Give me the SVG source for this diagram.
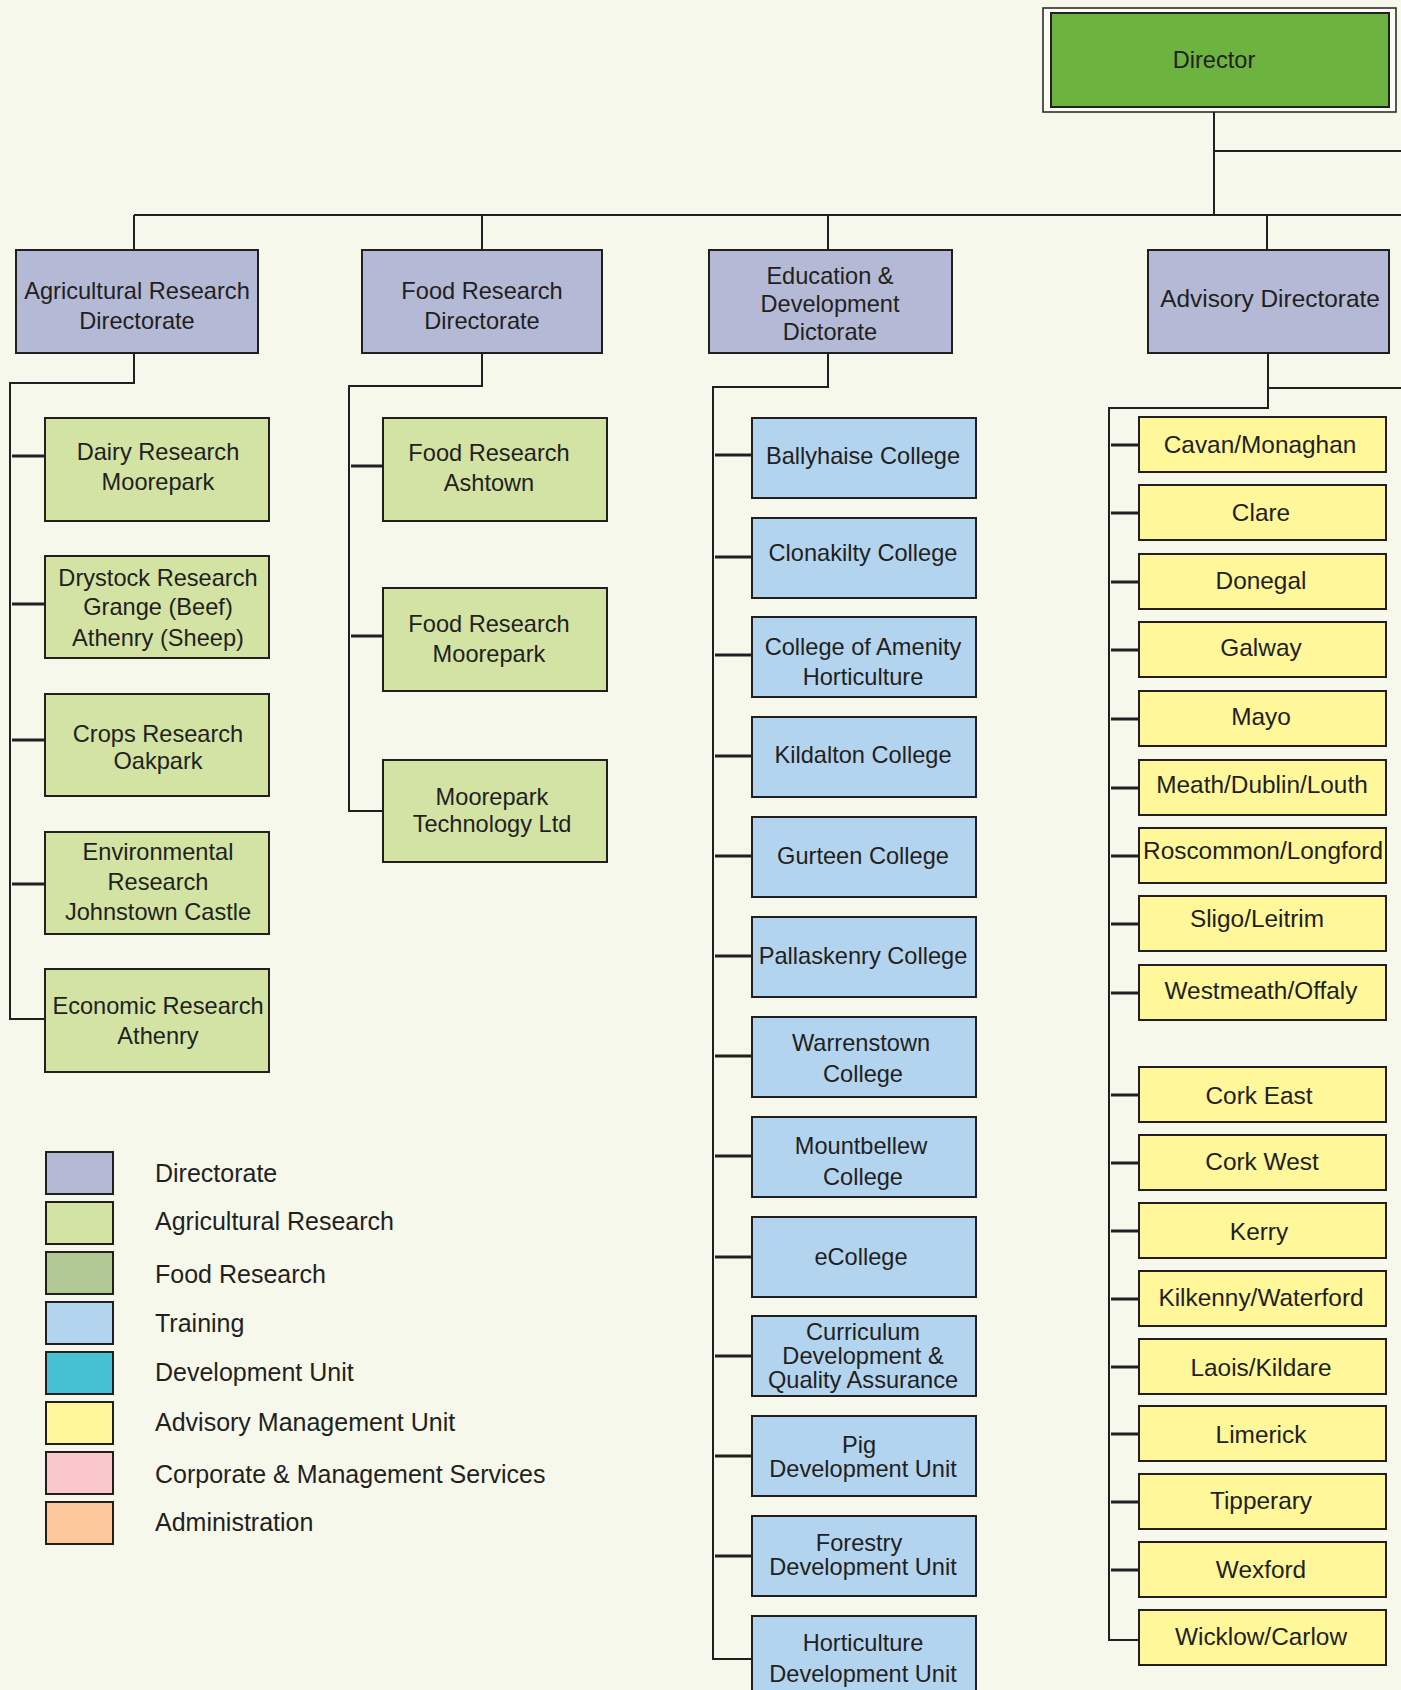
<svg xmlns="http://www.w3.org/2000/svg" width="1401" height="1690" viewBox="0 0 1401 1690">
<style>
text{font-family:"Liberation Sans",Arial,sans-serif;font-size:23.6px;fill:#231f20;text-anchor:middle;dominant-baseline:central}
.w{font-size:24.4px}
.lg{text-anchor:start;font-size:25px}
.b{stroke:#231f20;stroke-width:2}
.dir{fill:#b4b9d6}.agr{fill:#d2e3a4}.food{fill:#b2c996}.tr{fill:#b3d4ef}.dev{fill:#45c1d3}.adv{fill:#fff799}.corp{fill:#f9c7cc}.adm{fill:#fdc89c}
.c{fill:none;stroke:#231f20;stroke-width:2}
.t{fill:none;stroke:#231f20;stroke-width:3}
</style>
<rect x="0" y="0" width="1401" height="1690" fill="#f7f8ec"/>
<g id="connectors">
<path class="c" d="M1214 107V215M1214 151H1401M134 215H1401M134 215V250M482 215V250M828 215V250M1267 215V250"/>
<path class="c" d="M134 353V383H10V1019H45"/>
<path class="t" d="M12 456H45M12 604H45M12 740H45M12 884H45"/>
<path class="c" d="M482 352V386H349V811H383"/>
<path class="t" d="M351 466H383M351 636H383"/>
<path class="c" d="M828 353V387H713V1659H752"/>
<path class="t" d="M715 455H752M715 557H752M715 655H752M715 756H752M715 856H752M715 956H752M715 1056H752M715 1156H752M715 1257H752M715 1356H752M715 1456H752M715 1556H752"/>
<path class="c" d="M1268 353V408H1109V1640H1139M1268 388H1401"/>
<path class="t" d="M1111 445H1139M1111 513H1139M1111 582H1139M1111 650H1139M1111 719H1139M1111 788H1139M1111 856H1139M1111 924H1139M1111 993H1139M1111 1095H1139M1111 1163H1139M1111 1231H1139M1111 1299H1139M1111 1367H1139M1111 1434H1139M1111 1502H1139M1111 1570H1139"/>
</g>
<g id="director">
<rect x="1043" y="8" width="353" height="104" fill="#fbfcf4" stroke="#231f20" stroke-width="1.5"/>
<rect x="1051" y="13" width="338" height="94" fill="#6db33f" class="b"/>
<text x="1214" y="60">Director</text>
</g>
<g id="agri-dir"><rect x="16" y="250" width="242" height="103" class="b dir"/><text x="137" y="291">Agricultural Research</text><text x="137" y="321">Directorate</text></g>
<g id="food-dir"><rect x="362" y="250" width="240" height="103" class="b dir"/><text x="482" y="291">Food Research</text><text x="482" y="321">Directorate</text></g>
<g id="edu-dir"><rect x="709" y="250" width="243" height="103" class="b dir"/><text x="830" y="276">Education &amp;</text><text x="830" y="304">Development</text><text x="830" y="332">Dictorate</text></g>
<g id="adv-dir"><rect x="1148" y="250" width="241" height="103" class="b dir"/><text class="w" x="1270" y="298">Advisory Directorate</text></g>

<g id="dairy"><rect x="45" y="418" width="224" height="103" class="b agr"/><text x="158" y="452">Dairy Research</text><text x="158" y="482">Moorepark</text></g>
<g id="drystock"><rect x="45" y="556" width="224" height="102" class="b agr"/><text x="158" y="578">Drystock Research</text><text x="158" y="607">Grange (Beef)</text><text x="158" y="638">Athenry (Sheep)</text></g>
<g id="crops"><rect x="45" y="694" width="224" height="102" class="b agr"/><text x="158" y="734">Crops Research</text><text x="158" y="761">Oakpark</text></g>
<g id="env"><rect x="45" y="832" width="224" height="102" class="b agr"/><text x="158" y="852">Environmental</text><text x="158" y="882">Research</text><text x="158" y="912">Johnstown Castle</text></g>
<g id="econ"><rect x="45" y="969" width="224" height="103" class="b agr"/><text x="158" y="1006">Economic Research</text><text x="158" y="1036">Athenry</text></g>

<g id="food-ashtown"><rect x="383" y="418" width="224" height="103" class="b agr"/><text x="489" y="453">Food Research</text><text x="489" y="483">Ashtown</text></g>
<g id="food-moorepark"><rect x="383" y="588" width="224" height="103" class="b agr"/><text x="489" y="624">Food Research</text><text x="489" y="654">Moorepark</text></g>
<g id="moorepark-tech"><rect x="383" y="760" width="224" height="102" class="b agr"/><text x="492" y="797">Moorepark</text><text x="492" y="824">Technology Ltd</text></g>

<g id="ballyhaise"><rect x="752" y="418" width="224" height="80" class="b tr"/><text x="863" y="456">Ballyhaise College</text></g>
<g id="clonakilty"><rect x="752" y="518" width="224" height="80" class="b tr"/><text x="863" y="553">Clonakilty College</text></g>
<g id="amenity"><rect x="752" y="617" width="224" height="80" class="b tr"/><text x="863" y="647">College of Amenity</text><text x="863" y="677">Horticulture</text></g>
<g id="kildalton"><rect x="752" y="717" width="224" height="80" class="b tr"/><text x="863" y="755">Kildalton College</text></g>
<g id="gurteen"><rect x="752" y="817" width="224" height="80" class="b tr"/><text x="863" y="856">Gurteen College</text></g>
<g id="pallaskenry"><rect x="752" y="917" width="224" height="80" class="b tr"/><text x="863" y="956">Pallaskenry College</text></g>
<g id="warrenstown"><rect x="752" y="1017" width="224" height="80" class="b tr"/><text x="861" y="1043">Warrenstown</text><text x="863" y="1074">College</text></g>
<g id="mountbellew"><rect x="752" y="1117" width="224" height="80" class="b tr"/><text x="861" y="1146">Mountbellew</text><text x="863" y="1177">College</text></g>
<g id="ecollege"><rect x="752" y="1217" width="224" height="80" class="b tr"/><text x="861" y="1257">eCollege</text></g>
<g id="curriculum"><rect x="752" y="1316" width="224" height="80" class="b tr"/><text x="863" y="1332">Curriculum</text><text x="863" y="1356">Development &amp;</text><text x="863" y="1380">Quality Assurance</text></g>
<g id="pig"><rect x="752" y="1416" width="224" height="80" class="b tr"/><text x="859" y="1445">Pig</text><text x="863" y="1469">Development Unit</text></g>
<g id="forestry"><rect x="752" y="1516" width="224" height="80" class="b tr"/><text x="859" y="1543">Forestry</text><text x="863" y="1567">Development Unit</text></g>
<g id="horticulture"><rect x="752" y="1616" width="224" height="80" class="b tr"/><text x="863" y="1643">Horticulture</text><text x="863" y="1674">Development Unit</text></g>

<g id="cavan"><rect x="1139" y="417" width="247" height="55" class="b adv"/><text class="w" x="1260" y="444">Cavan/Monaghan</text></g>
<g id="clare"><rect x="1139" y="485" width="247" height="55" class="b adv"/><text class="w" x="1261" y="512">Clare</text></g>
<g id="donegal"><rect x="1139" y="554" width="247" height="55" class="b adv"/><text class="w" x="1261" y="580">Donegal</text></g>
<g id="galway"><rect x="1139" y="622" width="247" height="55" class="b adv"/><text class="w" x="1261" y="647">Galway</text></g>
<g id="mayo"><rect x="1139" y="691" width="247" height="55" class="b adv"/><text class="w" x="1261" y="716">Mayo</text></g>
<g id="meath"><rect x="1139" y="760" width="247" height="55" class="b adv"/><text class="w" x="1262" y="784">Meath/Dublin/Louth</text></g>
<g id="roscommon"><rect x="1139" y="828" width="247" height="55" class="b adv"/><text class="w" x="1263" y="850">Roscommon/Longford</text></g>
<g id="sligo"><rect x="1139" y="896" width="247" height="55" class="b adv"/><text class="w" x="1257" y="918">Sligo/Leitrim</text></g>
<g id="westmeath"><rect x="1139" y="965" width="247" height="55" class="b adv"/><text class="w" x="1261" y="990">Westmeath/Offaly</text></g>
<g id="cork-east"><rect x="1139" y="1067" width="247" height="55" class="b adv"/><text class="w" x="1259" y="1095">Cork East</text></g>
<g id="cork-west"><rect x="1139" y="1135" width="247" height="55" class="b adv"/><text class="w" x="1262" y="1161">Cork West</text></g>
<g id="kerry"><rect x="1139" y="1203" width="247" height="55" class="b adv"/><text class="w" x="1259" y="1231">Kerry</text></g>
<g id="kilkenny"><rect x="1139" y="1271" width="247" height="55" class="b adv"/><text class="w" x="1261" y="1297">Kilkenny/Waterford</text></g>
<g id="laois"><rect x="1139" y="1339" width="247" height="55" class="b adv"/><text class="w" x="1261" y="1367">Laois/Kildare</text></g>
<g id="limerick"><rect x="1139" y="1406" width="247" height="55" class="b adv"/><text class="w" x="1261" y="1434">Limerick</text></g>
<g id="tipperary"><rect x="1139" y="1474" width="247" height="55" class="b adv"/><text class="w" x="1261" y="1500">Tipperary</text></g>
<g id="wexford"><rect x="1139" y="1542" width="247" height="55" class="b adv"/><text class="w" x="1261" y="1569">Wexford</text></g>
<g id="wicklow"><rect x="1139" y="1610" width="247" height="55" class="b adv"/><text class="w" x="1261" y="1636">Wicklow/Carlow</text></g>

<g id="legend">
<rect x="46" y="1152" width="67" height="42" class="b dir"/><text class="lg" x="155" y="1173">Directorate</text>
<rect x="46" y="1202" width="67" height="42" class="b agr"/><text class="lg" x="155" y="1221">Agricultural Research</text>
<rect x="46" y="1252" width="67" height="42" class="b food"/><text class="lg" x="155" y="1274">Food Research</text>
<rect x="46" y="1302" width="67" height="42" class="b tr"/><text class="lg" x="155" y="1323">Training</text>
<rect x="46" y="1352" width="67" height="42" class="b dev"/><text class="lg" x="155" y="1372">Development Unit</text>
<rect x="46" y="1402" width="67" height="42" class="b adv"/><text class="lg" x="155" y="1422">Advisory Management Unit</text>
<rect x="46" y="1452" width="67" height="42" class="b corp"/><text class="lg" x="155" y="1474">Corporate &amp; Management Services</text>
<rect x="46" y="1502" width="67" height="42" class="b adm"/><text class="lg" x="155" y="1522">Administration</text>
</g>
</svg>
